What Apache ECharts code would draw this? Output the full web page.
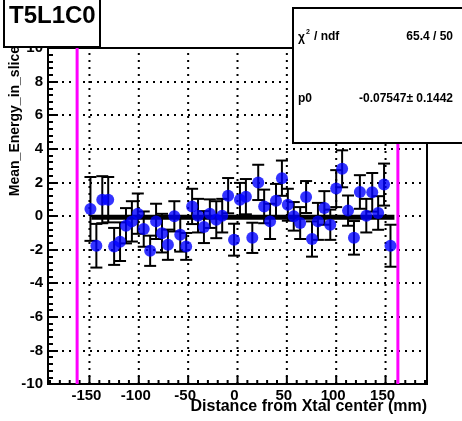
<!DOCTYPE html>
<html><head><meta charset="utf-8">
<script src="https://cdn.jsdelivr.net/npm/echarts@6/dist/echarts.min.js"></script>
<style>html,body{margin:0;padding:0;background:#fff}#c{width:462px;height:421px}</style>
</head><body><div id="c"></div>
<script>
// ---- data ----
const xPos = [-149,-143,-137,-131,-125,-119,-113,-107,-101,-95,-88.5,-82.5,-76.5,-70.5,-64,-58,-52,-46,-40,-34,-28,-21.5,-15.5,-9.5,-3.5,2.5,8.5,15,21,27,33,39,45,51,57,63.5,69.5,75.5,81.5,88,94,100,106,112,118,124,130.5,136.5,142.5,148.5,155];
const yMean = [0.42,-1.77,0.97,0.97,-1.81,-1.53,-0.58,-0.32,0.14,-0.78,-2.07,-0.32,-1.02,-1.71,-0.02,-1.12,-1.81,0.57,0.02,-0.66,0.14,-0.22,0.02,1.21,-1.41,0.97,1.15,-1.3,2.0,0.57,-0.32,0.91,2.25,0.67,-0.02,-0.42,1.13,-1.37,-0.32,0.48,-0.52,1.63,2.81,0.32,-1.3,1.43,0.02,1.41,0.18,1.87,-1.77];
const yErr = [1.9,1.3,1.4,1.35,1.1,1.15,1.05,1.2,1.2,1.05,0.9,1.05,1.15,0.9,0.9,1.0,0.8,1.05,1.0,0.95,0.85,1.1,1.0,1.05,0.95,1.0,1.05,0.9,1.05,1.0,1.05,1.0,1.05,0.95,0.85,0.95,0.95,1.05,1.1,1.0,0.9,1.1,1.1,0.9,1.0,1.0,1.0,1.15,1.0,1.25,1.25];
const xTickLabels = [-150,-100,-50,0,50,100,150];
const yTickLabels = [-10,-8,-6,-4,-2,0,2,4,6,8,10];
const xRange = [-192, 192];
const yRange = [-10, 10];
const fitP0 = -0.07547;
const fitRange = [-148, 159];
const cutLines = [-162.5, 162.5];
const titleText = 'T5L1C0';
const xTitle = 'Distance from Xtal center (mm)';
const yTitle = 'Mean_Energy_in_slice';
const statChi = '65.4 / 50';
const statP0 = '-0.07547\u00b1 0.1442';

// ---- build ----
const FONT = '"Liberation Sans", Arial, Helvetica, sans-serif';
const xMinor = [];
for (let v = -190; v <= 190; v += 10) if (xTickLabels.indexOf(v) < 0) xMinor.push(v);
const tickData = xTickLabels.map(v => [v, 1]).concat(xMinor.map(v => [v, 0]));
const pts = xPos.map((x, i) => [x, yMean[i], yErr[i]]);

const chart = echarts.init(document.getElementById('c'), null, {renderer: 'canvas'});
chart.setOption({
  animation: false,
  backgroundColor: '#fff',
  grid: {left: 48, top: 48, right: 35, bottom: 37, containLabel: false, outerBoundsMode: 'none',
         show: true, borderColor: '#000', borderWidth: 2, backgroundColor: 'transparent'},
  xAxis: {type: 'value', min: xRange[0], max: xRange[1],
    axisLine: {show: true, onZero: false, lineStyle: {color: '#000', width: 2}},
    axisTick: {show: false}, axisLabel: {show: false}, splitLine: {show: false}},
  yAxis: {type: 'value', min: yRange[0], max: yRange[1], interval: 2,
    axisLine: {show: true, onZero: false, lineStyle: {color: '#000', width: 2}},
    axisTick: {show: true, inside: true, length: 10, lineStyle: {color: '#000', width: 2}},
    minorTick: {show: true, splitNumber: 5, length: 5, lineStyle: {color: '#000', width: 2}},
    axisLabel: {color: '#000', fontFamily: FONT, fontWeight: 'bold', fontSize: 15, margin: 5,
      formatter: v => (yTickLabels.indexOf(v) >= 0 ? String(v) : '')},
    splitLine: {show: true, lineStyle: {color: '#000', width: 2, type: [2, 5]}}},
  series: [
    { // x grid, ticks and labels
      type: 'custom', z: 1, silent: true, clip: false,
      data: tickData,
      renderItem: (params, api) => {
        const v = api.value(0), major = api.value(1) === 1;
        const b = api.coord([v, yRange[0]]);
        const t = api.coord([v, yRange[1]]);
        const ch = [{type: 'line', shape: {x1: b[0], y1: b[1], x2: b[0], y2: b[1] - (major ? 8 : 4)},
                     style: {stroke: '#000', lineWidth: 2}}];
        if (major) {
          ch.push({type: 'line', shape: {x1: b[0], y1: b[1], x2: t[0], y2: t[1]},
                   style: {stroke: '#000', lineWidth: 2, lineDash: [2, 5]}});
          ch.push({type: 'text', style: {text: String(v), x: b[0] - 3, y: b[1] + 4, align: 'center',
                   verticalAlign: 'top', fill: '#000', font: 'bold 15px ' + FONT}});
        }
        return {type: 'group', children: ch};
      }
    },
    ...cutLines.map(x => ({type: 'line', z: 2, silent: true, symbol: 'none',
      data: [[x, yRange[0]], [x, yRange[1]]], lineStyle: {color: '#ff00ff', width: 3}})),
    { // error bars
      type: 'custom', z: 3, silent: true,
      data: pts,
      renderItem: (params, api) => {
        const x = api.value(0), y = api.value(1), e = api.value(2);
        const hi = api.coord([x, y + e]), lo = api.coord([x, y - e]);
        const w = 6;
        return {type: 'group', children: [
          {type: 'line', shape: {x1: hi[0], y1: hi[1], x2: lo[0], y2: lo[1]}, style: {stroke: '#000', lineWidth: 2}},
          {type: 'line', shape: {x1: hi[0] - w, y1: hi[1], x2: hi[0] + w, y2: hi[1]}, style: {stroke: '#000', lineWidth: 2}},
          {type: 'line', shape: {x1: lo[0] - w, y1: lo[1], x2: lo[0] + w, y2: lo[1]}, style: {stroke: '#000', lineWidth: 2}}
        ]};
      }
    },
    {type: 'line', z: 4, silent: true, symbol: 'none',
      data: [[fitRange[0], fitP0], [fitRange[1], fitP0]], lineStyle: {color: '#000', width: 5}},
    {type: 'scatter', z: 5, silent: true, symbol: 'circle', symbolSize: 12,
      data: pts.map(p => [p[0], p[1]]), itemStyle: {color: '#0000ff'}}
  ],
  graphic: [
    {type: 'text', z: 50, style: {text: yTitle, x: 0, y: 0, align: 'right', verticalAlign: 'middle',
      fill: '#000', font: 'bold 14px ' + FONT}, x: 15, y: 46, rotation: Math.PI / 2},
    {type: 'text', z: 50, style: {text: xTitle, x: 427, y: 407, align: 'right', verticalAlign: 'middle',
      fill: '#000', font: 'bold 16px ' + FONT}},
    {type: 'rect', z: 100, shape: {x: 4, y: -3, width: 96, height: 50}, style: {fill: '#fff', stroke: '#000', lineWidth: 2}},
    {type: 'text', z: 101, style: {text: titleText, x: 9, y: 16, align: 'left', verticalAlign: 'middle',
      fill: '#000', font: 'bold 24px ' + FONT}},
    {type: 'rect', z: 100, shape: {x: 293, y: 8, width: 180, height: 135}, style: {fill: '#fff', stroke: '#000', lineWidth: 2}},
    {type: 'text', z: 101, style: {text: '\u03c7', x: 298, y: 38, align: 'left', verticalAlign: 'middle', fill: '#000', font: 'bold 12px ' + FONT}},
    {type: 'text', z: 101, style: {text: '2', x: 306, y: 32, align: 'left', verticalAlign: 'middle', fill: '#000', font: 'bold 7px ' + FONT}},
    {type: 'text', z: 101, style: {text: '/ ndf', x: 314, y: 37, align: 'left', verticalAlign: 'middle', fill: '#000', font: 'bold 12px ' + FONT}},
    {type: 'text', z: 101, style: {text: statChi, x: 453, y: 37, align: 'right', verticalAlign: 'middle', fill: '#000', font: 'bold 12px ' + FONT}},
    {type: 'text', z: 101, style: {text: 'p0', x: 298, y: 99, align: 'left', verticalAlign: 'middle', fill: '#000', font: 'bold 12px ' + FONT}},
    {type: 'text', z: 101, style: {text: statP0, x: 453, y: 99, align: 'right', verticalAlign: 'middle', fill: '#000', font: 'bold 12px ' + FONT}}
  ]
});
</script></body></html>
